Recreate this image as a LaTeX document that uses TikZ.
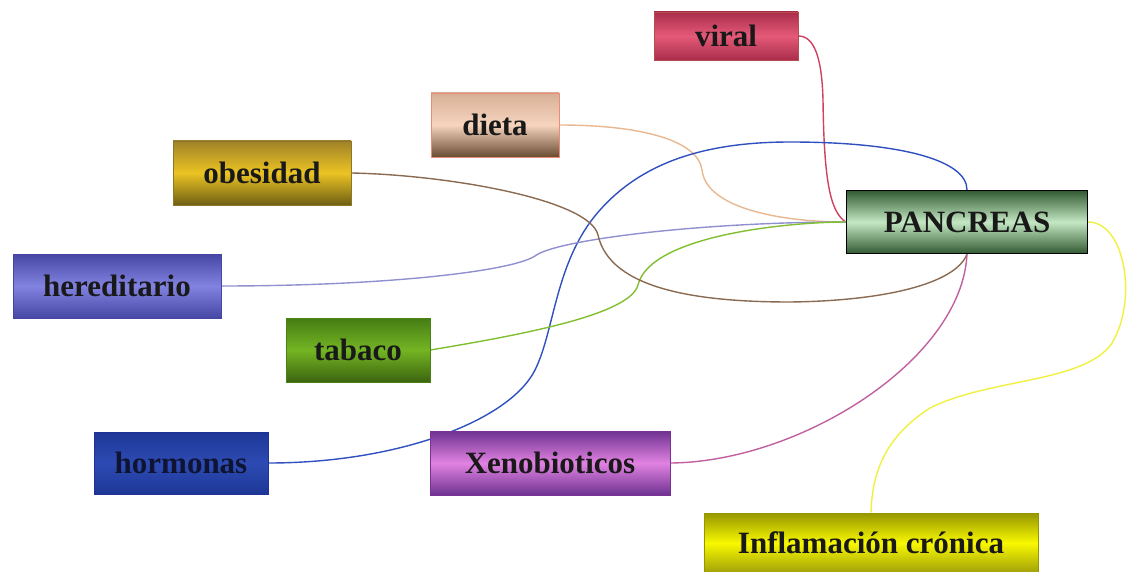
\documentclass[tikz,border=0pt]{standalone}
\usepackage{fontspec}
\setmainfont{Liberation Serif}
\usetikzlibrary{backgrounds}
\definecolor{lnred}{HTML}{D04060}
\definecolor{lntan}{HTML}{E8B890}
\definecolor{lnblue}{HTML}{3050C0}
\definecolor{lnlav}{HTML}{9090D0}
\definecolor{lngreen}{HTML}{80C030}
\definecolor{lnbrown}{HTML}{8A6A50}
\definecolor{lnpink}{HTML}{C060A0}
\definecolor{lnyellow}{HTML}{F0F040}
\tikzset{
  box/.style={rectangle, inner sep=0pt, line width=0.8pt, text=black!90,
    font=\fontsize{31}{33}\selectfont\bfseries},
  conn/.style={line width=1.4pt},
}
\begin{document}
\begin{tikzpicture}[x=1pt,y=-1pt]
\useasboundingbox (0,0) rectangle (1132,572);
\node[box, minimum width=144pt, minimum height=48pt, draw=red!60!black!70,
  top color={rgb,255:red,170;green,45;blue,75}, bottom color={rgb,255:red,170;green,45;blue,75},
  middle color={rgb,255:red,228;green,90;blue,120}] (viral) at (726,36) {viral};
\node[box, minimum width=128pt, minimum height=64pt, draw={rgb,255:red,235;green,140;blue,120},
  top color={rgb,255:red,215;green,175;blue,150}, bottom color={rgb,255:red,105;green,75;blue,50},
  middle color={rgb,255:red,246;green,212;blue,190}] (dieta) at (495,125) {dieta};
\node[box, minimum width=178pt, minimum height=64pt, draw={rgb,255:red,140;green,120;blue,40},
  top color={rgb,255:red,160;green,130;blue,40}, bottom color={rgb,255:red,110;green,95;blue,20},
  middle color={rgb,255:red,235;green,195;blue,35}] (obesidad) at (262,173) {obesidad};
\node[box, minimum width=208pt, minimum height=64pt, draw={rgb,255:red,70;green,70;blue,160},
  top color={rgb,255:red,70;green,70;blue,165}, bottom color={rgb,255:red,70;green,70;blue,165},
  middle color={rgb,255:red,130;green,130;blue,225}] (hered) at (117,286) {hereditario};
\node[box, minimum width=144pt, minimum height=64pt, draw={rgb,255:red,70;green,130;blue,20},
  top color={rgb,255:red,70;green,125;blue,20}, bottom color={rgb,255:red,60;green,100;blue,15},
  middle color={rgb,255:red,115;green,180;blue,35}] (tabaco) at (358,350) {tabaco};
\node[box, minimum width=174pt, minimum height=62pt, draw={rgb,255:red,30;green,50;blue,150},
  top color={rgb,255:red,30;green,55;blue,150}, bottom color={rgb,255:red,30;green,55;blue,150},
  middle color={rgb,255:red,45;green,75;blue,180}, text={rgb,255:red,15;green,20;blue,50}] (hormonas) at (181,463) {hormonas};
\node[box, minimum width=240pt, minimum height=64pt, draw={rgb,255:red,120;green,50;blue,150},
  top color={rgb,255:red,110;green,50;blue,145}, bottom color={rgb,255:red,110;green,50;blue,145},
  middle color={rgb,255:red,225;green,130;blue,225}] (xeno) at (550,463) {Xenobioticos};
\node[box, minimum width=241pt, minimum height=63pt, draw=black, line width=1.2pt,
  top color={rgb,255:red,50;green,90;blue,50}, bottom color={rgb,255:red,50;green,90;blue,50},
  middle color={rgb,255:red,195;green,232;blue,195}] (pan) at (967,222) {PANCREAS};
\node[box, minimum width=334pt, minimum height=60pt, draw={rgb,255:red,150;green,150;blue,0},
  top color={rgb,255:red,150;green,150;blue,0}, bottom color={rgb,255:red,160;green,160;blue,10},
  middle color={rgb,255:red,248;green,248;blue,0}] (infl) at (871,543) {Inflamación crónica};
\begin{scope}[on background layer]
\draw[conn, lnred] (viral.east) .. controls (815,36) and (822,60) .. (823,100)
  .. controls (824,180) and (830,212) .. (pan.west);
\draw[conn, lntan] (dieta.east) .. controls (640,125) and (698,140) .. (702,170)
  .. controls (706,208) and (780,222) .. (pan.west);
\draw[conn, lnblue] (hormonas.east) .. controls (400,463) and (510,420) .. (535,370)
  .. controls (555,330) and (555,260) .. (600,210)
  .. controls (640,165) and (700,142) .. (790,142)
  .. controls (900,142) and (967,160) .. (pan.north);
\draw[conn, lnlav] (hered.east) .. controls (380,286) and (510,272) .. (535,256)
  .. controls (555,240) and (700,222) .. (pan.west);
\draw[conn, lngreen] (tabaco.east) .. controls (520,335) and (630,315) .. (638,285)
  .. controls (650,235) and (790,222) .. (pan.west);
\draw[conn, lnbrown] (obesidad.east) .. controls (450,175) and (590,200) .. (598,235)
  .. controls (610,290) and (700,302) .. (790,302)
  .. controls (880,301) and (955,285) .. (pan.south);
\draw[conn, lnpink] (xeno.east) .. controls (800,462) and (962,360) .. (pan.south);
\draw[conn, lnyellow] (pan.east) .. controls (1125,222) and (1138,300) .. (1112,343)
  .. controls (1085,383) and (990,378) .. (930,408)
  .. controls (880,440) and (872,480) .. (infl.north);
\end{scope}
\end{tikzpicture}
\end{document}
